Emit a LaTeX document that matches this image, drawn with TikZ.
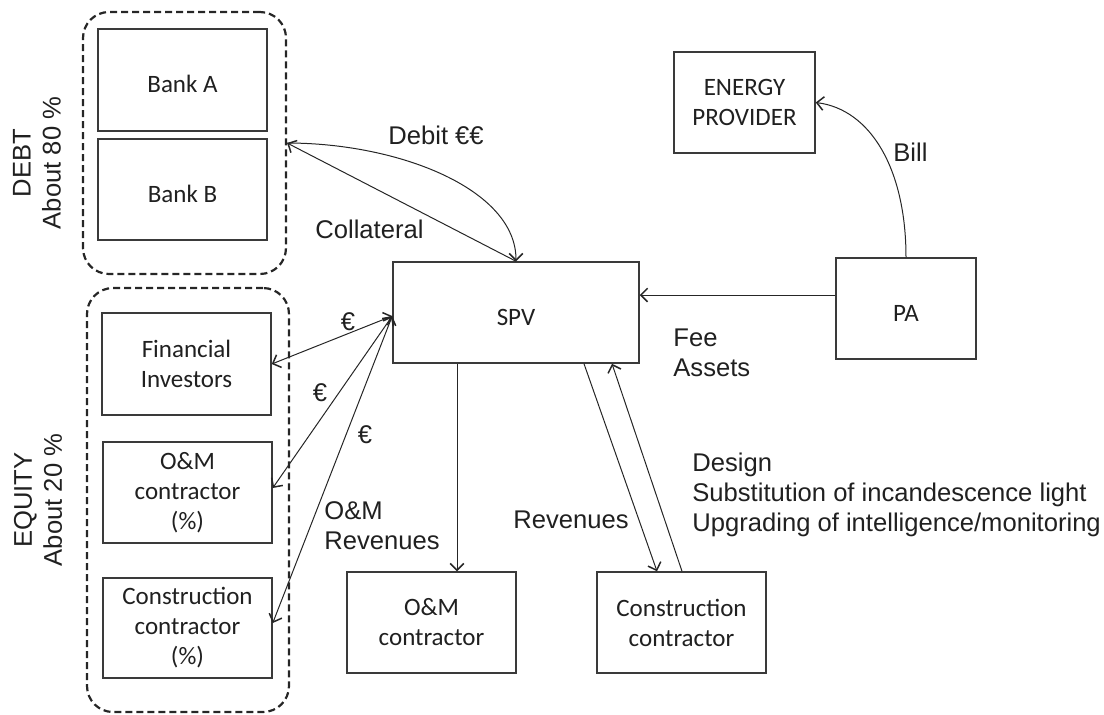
\documentclass[tikz,border=0pt]{standalone}
\usepackage{fontspec}
\setmainfont{Liberation Sans}
\newfontfamily\boxfont{Carlito}
\usetikzlibrary{arrows.meta}
\definecolor{boxgray}{HTML}{3A3A3A}
\definecolor{txtgray}{HTML}{202020}
\tikzset{
  box/.style={draw=boxgray, line width=0.75pt, fill=white, inner sep=2pt, align=center,
    font=\boxfont\fontsize{12.5}{15}\selectfont, text=txtgray,
    execute at begin node={\rule{0pt}{12.8pt}}},
  group/.style={draw=black!85, line width=1.1pt, dash pattern=on 3.5pt off 2pt,
    rounded corners=13pt, inner sep=0pt},
  tipA/.tip={Straight Barb[length=3.4pt,width=6.8pt,line width=0.75pt]},
  arr/.style={-tipA, line width=0.5pt, draw=black!85},
  dbl/.style={tipA-tipA, line width=0.5pt, draw=black!85},
  lbl/.style={font=\fontsize{12.8}{15}\selectfont, align=left, inner sep=0pt, text=txtgray},
}
\begin{document}
\begin{tikzpicture}[x=0.5pt, y=-0.5pt]
\useasboundingbox (0,0) rectangle (1104,714);

% groups
\node[group, minimum width=101.5pt, minimum height=131pt] (debt) at (184.5,143) {};
\node[group, minimum width=101pt, minimum height=212pt] (equity) at (188,500) {};

% boxes
\node[box, minimum width=84.5pt, minimum height=51pt] (bankA) at (182.5,80) {Bank A};
\node[box, minimum width=84.5pt, minimum height=50.5pt] (bankB) at (182.5,189.5) {Bank B};
\node[box, minimum width=84.5pt, minimum height=51pt] (finInv) at (186.5,364) {Financial\\Investors};
\node[box, minimum width=84.5pt, minimum height=50.5pt] (omPct) at (187.5,492.5) {O\&M\\contractor\\(\%)};
\node[box, minimum width=84.5pt, minimum height=50pt] (conPct) at (187.5,628) {Construction\\contractor\\(\%)};
\node[box, minimum width=123pt, minimum height=50.5pt] (spv) at (516,312.5) {SPV};
\node[box, minimum width=70.5pt, minimum height=50.5pt] (ep) at (744.5,102.5) {ENERGY\\PROVIDER};
\node[box, minimum width=70pt, minimum height=50.5pt] (pa) at (906,308.5) {PA};
\node[box, minimum width=84.5pt, minimum height=50.5pt] (om) at (431.5,622.5) {O\&M\\contractor};
\node[box, minimum width=84.5pt, minimum height=50.5pt] (con) at (681.5,622.5) {Construction\\contractor};

% side labels
\node[lbl, align=center, rotate=90] (debtlbl) at (37,163) {DEBT\\About 80 \%};
\node[lbl, align=center, rotate=90] (eqlbl) at (38,500) {EQUITY\\About 20 \%};

% debt connectors
\draw[arr] (debt.east) .. controls +(112,0) and +(0,-72) .. (spv.north);
\draw[arr] (spv.north) -- (debt.east);
\node[lbl, anchor=west] (debit) at (388,135) {Debit €€};
\node[lbl, anchor=west] (coll) at (315,229) {Collateral};

% equity connectors
\coordinate (spvL) at ([yshift=-1.75pt]spv.west);
\draw[dbl] (spvL) -- (finInv.east);
\draw[dbl] (spvL) -- ([yshift=2.25pt]omPct.east);
\draw[dbl] (spvL) -- ([yshift=2.5pt]conPct.east);
\node[lbl, anchor=center] (e1) at (348,322) {€};
\node[lbl, anchor=center] (e2) at (320,393) {€};
\node[lbl, anchor=center] (e3) at (365,435) {€};
\node[lbl, anchor=west] (omrev) at (324,526) {O\&M\\Revenues};

% contractors
\draw[arr] ([xshift=-29.5pt]spv.south) -- ([xshift=-29.5pt]spv.south |- om.north);
\draw[arr] ([xshift=34pt]spv.south) -- ([xshift=-12.25pt]con.north);
\draw[arr] ([xshift=0.25pt]con.north) -- ([xshift=48pt]spv.south);
\node[lbl, anchor=center] (rev) at (571,520) {Revenues};
\node[lbl, anchor=west] (design) at (692,495) {Design\\Substitution of incandescence light\\Upgrading of intelligence/monitoring};

% PA
\draw[arr] ([yshift=6.75pt]pa.west) -- ([yshift=6.75pt]pa.west -| spv.east);
\node[lbl, anchor=west] (fee) at (673,353) {Fee\\Assets};
\draw[arr] (pa.north) .. controls +(0,-88) and +(55,7) .. (ep.east);
\node[lbl, anchor=west] (bill) at (893,152) {Bill};
\end{tikzpicture}
\end{document}
